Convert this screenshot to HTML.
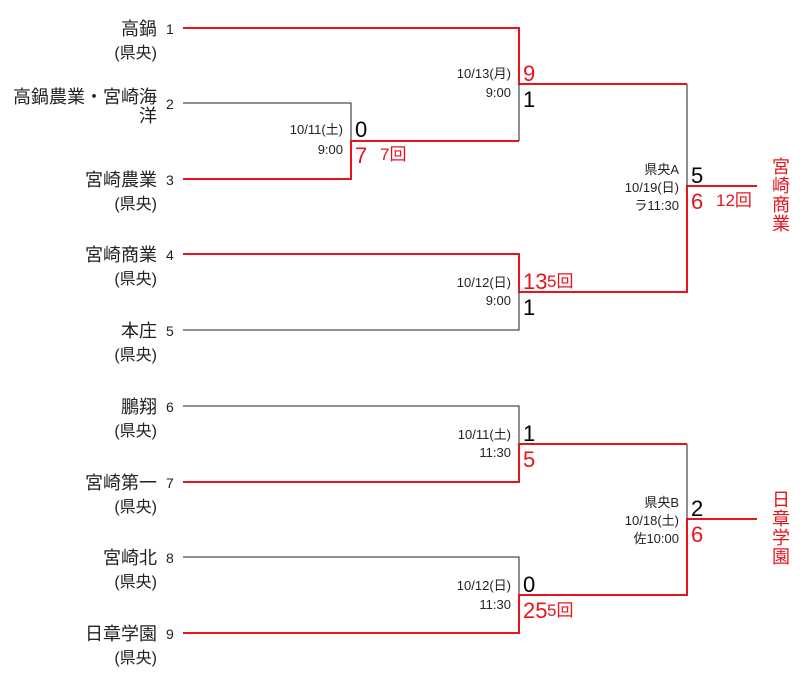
<!DOCTYPE html>
<html><head><meta charset="utf-8"><style>
body{margin:0;background:#fff;}
svg{display:block;font-family:"Liberation Sans","Noto Sans CJK JP",sans-serif;}
.n{font-size:18px;fill:#222;text-anchor:end}
.p{font-size:16px;fill:#222;text-anchor:end}
.k{font-size:14px;fill:#222}
.d{font-size:13px;fill:#222;text-anchor:end}
.s{font-size:22px;fill:#000}
.r{fill:#e8141c}
.bl{stroke:#222;stroke-width:1;fill:none}
.rl{stroke:#e8141c;stroke-width:2;fill:none}
</style></head><body>
<svg width="807" height="680" viewBox="0 0 807 680">
<g class="n">
<text x="157" y="35">高鍋</text>
<text x="157" y="103">高鍋農業・宮崎海</text><text x="157" y="122">洋</text>
<text x="157" y="186">宮崎農業</text>
<text x="157" y="261">宮崎商業</text>
<text x="157" y="337">本庄</text>
<text x="157" y="413">鵬翔</text>
<text x="157" y="489">宮崎第一</text>
<text x="157" y="564">宮崎北</text>
<text x="157" y="640">日章学園</text>
</g>
<g class="p">
<text x="157" y="58">(県央)</text>
<text x="157" y="209">(県央)</text>
<text x="157" y="284">(県央)</text>
<text x="157" y="360">(県央)</text>
<text x="157" y="436">(県央)</text>
<text x="157" y="512">(県央)</text>
<text x="157" y="587">(県央)</text>
<text x="157" y="663">(県央)</text>
</g>
<g class="k">
<text x="166" y="34">1</text><text x="166" y="109">2</text><text x="166" y="185">3</text>
<text x="166" y="260">4</text><text x="166" y="336">5</text><text x="166" y="412">6</text>
<text x="166" y="488">7</text><text x="166" y="563">8</text><text x="166" y="639">9</text>
</g>
<path class="bl" d="M183 103H351V141"/>
<path class="rl" d="M183 179H351V141H519"/>
<path class="rl" d="M183 28H519V84H687"/>
<path class="bl" d="M519 84V141"/>
<path class="rl" d="M183 254H519V292H687V186H757"/>
<path class="bl" d="M183 330H519V292"/>
<path class="bl" d="M687 84V186"/>
<path class="bl" d="M183 406H519V444"/>
<path class="rl" d="M183 482H519V444H687"/>
<path class="bl" d="M183 557H519V595"/>
<path class="rl" d="M183 633H519V595H687V519H757"/>
<path class="bl" d="M687 444V519"/>
<g class="d">
<text x="343" y="134">10/11(土)</text><text x="343" y="154">9:00</text>
<text x="511" y="78">10/13(月)</text><text x="511" y="97">9:00</text>
<text x="511" y="287">10/12(日)</text><text x="511" y="305">9:00</text>
<text x="511" y="439">10/11(土)</text><text x="511" y="457">11:30</text>
<text x="511" y="590">10/12(日)</text><text x="511" y="609">11:30</text>
<text x="679" y="174">県央A</text><text x="679" y="192">10/19(日)</text><text x="679" y="210">ラ11:30</text>
<text x="679" y="507">県央B</text><text x="679" y="525">10/18(土)</text><text x="679" y="543">佐10:00</text>
</g>
<g class="s">
<text x="355" y="137">0</text><text class="r" x="355" y="163">7</text>
<text class="r" x="523" y="81">9</text><text x="523" y="107">1</text>
<text class="r" x="523" y="289">13</text><text x="523" y="315">1</text>
<text x="523" y="441">1</text><text class="r" x="523" y="467">5</text>
<text x="523" y="592">0</text><text class="r" x="523" y="618">25</text>
<text x="691" y="183">5</text><text class="r" x="691" y="209">6</text>
<text x="691" y="516">2</text><text class="r" x="691" y="542">6</text>
</g>
<g class="r" style="font-size:17px">
<text x="380" y="160">7回</text>
<text x="547" y="287">5回</text>
<text x="547" y="616">5回</text>
<text x="716" y="206">12回</text>
</g>
<g class="r" style="font-size:18px" text-anchor="middle">
<text x="781" y="173">宮</text><text x="781" y="192">崎</text><text x="781" y="211">商</text><text x="781" y="230">業</text>
<text x="781" y="506">日</text><text x="781" y="525">章</text><text x="781" y="544">学</text><text x="781" y="563">園</text>
</g>
</svg>
</body></html>
